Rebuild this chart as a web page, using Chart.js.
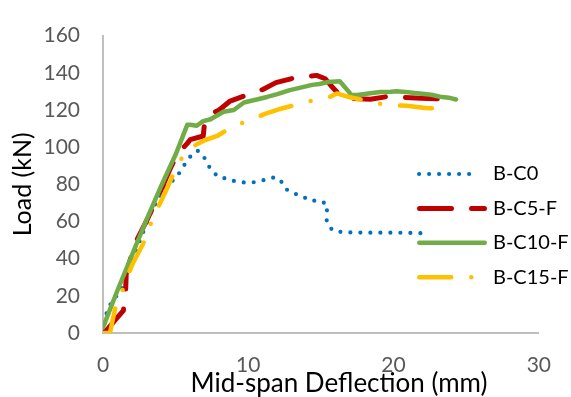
<!DOCTYPE html>
<html>
<head>
<meta charset="utf-8">
<script src="https://cdn.jsdelivr.net/npm/chart.js@4.4.1/dist/chart.umd.min.js"></script>
<style>
  html, body { margin: 0; padding: 0; background: #fff; }
</style>
</head>
<body>
<canvas id="myChart" width="571" height="397"></canvas>
<script>
// series labels
const seriesLabels = ['B-C0', 'B-C5-F', 'B-C10-F', 'B-C15-F'];

// B-C0 (deflection mm / load kN)
const c0X = [0, 0.3, 1.3, 2.3, 3.3, 4.0, 4.5, 5.0, 5.3, 5.65, 6.2, 6.55, 6.9, 7.2, 7.5, 8.0, 8.6, 9.1, 9.7, 10.3, 11.0, 11.7, 12.2, 12.5, 13.0, 13.7, 14.2, 14.9, 15.45, 15.4, 15.4, 15.8, 16.5, 18.0, 20.0, 21.9];
const c0Y = [0, 13, 24, 45, 65, 75, 80.5, 83, 86.7, 91, 97, 98, 95.5, 90.8, 87.2, 83.6, 83.1, 81.5, 81, 81, 82.1, 83.6, 82.6, 77.9, 75.4, 73.8, 71.2, 71.2, 69.2, 64.5, 59.4, 55.2, 54.2, 54, 54, 53.7];

// B-C5-F
const c5X = [0, 0.3, 0.8, 1.4, 1.55, 1.6, 2.2, 3.1, 4.0, 4.6, 5.1, 5.8, 6.0, 6.9, 7.0, 7.5, 8.0, 8.75, 9.9, 11.0, 11.9, 13.1, 14.0, 14.7, 15.3, 15.7, 16.1, 16.3, 17.0, 18.4, 19.5, 20.5, 21.9, 23.0, 23.8];
const c5Y = [0, 2, 6.7, 12, 21, 32, 48, 62, 77, 88, 96, 102, 104, 106, 114, 118, 120, 124.8, 128, 131, 134.7, 137.1, 138, 138.6, 136.8, 133, 129.7, 126.8, 126.3, 125.8, 127.1, 126.8, 126.3, 126, 125.4];

// B-C10-F
const c10X = [0, 1, 2, 3, 4, 5, 5.8, 6.0, 6.45, 6.9, 7.4, 8.3, 9.0, 9.7, 10.5, 11.3, 12.0, 12.8, 13.6, 14.4, 14.9, 15.5, 16.3, 16.55, 16.9, 17.1, 17.5, 18.4, 19.1, 19.8, 20.2, 21.0, 21.8, 22.6, 23.2, 23.8, 24.3];
const c10Y = [3, 23, 42, 61, 79, 96, 112, 112, 111.5, 114, 115, 119, 120, 124, 125.5, 127, 128.5, 130.5, 132, 133.5, 134, 135, 135.4, 133.2, 130, 128, 128, 129, 129.7, 129.8, 130, 129.5, 128.9, 128.2, 127.1, 126.6, 125.6];

// B-C15-F
const c15X = [0, 0.48, 0.83, 1.3, 1.7, 2.07, 2.76, 3.0, 3.45, 4.3, 4.76, 5.1, 5.65, 6.0, 7.0, 7.86, 8.9, 10.1, 11.2, 12.3, 13.5, 14.8, 15.6, 16.1, 17.0, 18.4, 19.5, 20.9, 22.2, 22.8];
const c15Y = [0, 0, 13, 22, 31, 37.7, 48, 53, 62, 76, 84, 90, 97, 99.6, 103.7, 106, 111, 114.6, 118, 120.8, 123.2, 125.8, 127, 128.9, 126.8, 124.6, 122.5, 122.3, 121.1, 120.8];

// axis ticks
const xTicks = [0, 10, 20, 30];
const yTicks = [0, 20, 40, 60, 80, 100, 120, 140, 160];

const FONT = 'Lato, "Open Sans", sans-serif';

function toPoints(xs, ys) {
    return xs.map((x, i) => ({ x: x, y: ys[i] }));
}

const styles = [
    { color: '#0070C0', width: 4.2, dash: [0, 10], cap: 'round', legendEnd: 480 },
    { color: '#C00000', width: 5, dash: [32, 20], cap: 'round', legendEnd: 487 },
    { color: '#70AD47', width: 4.5, dash: [], cap: 'round', legendEnd: 487 },
    { color: '#FFC000', width: 4.5, dash: [32, 20, 0, 20], cap: 'round', legendEnd: 487 },
];

const seriesData = [toPoints(c0X, c0Y), toPoints(c5X, c5Y), toPoints(c10X, c10Y), toPoints(c15X, c15Y)];

const datasets = seriesLabels.map((label, i) => ({
    label: label,
    data: seriesData[i],
    borderColor: styles[i].color,
    backgroundColor: styles[i].color,
    borderWidth: styles[i].width,
    borderDash: styles[i].dash,
    borderCapStyle: styles[i].cap,
    borderJoinStyle: 'round',
    pointRadius: 0,
    tension: 0,
    fill: false,
    order: seriesLabels.length - i,
}));

// legend drawn inside the plot, right side
const insideLegend = {
    id: 'insideLegend',
    afterDraw(chart) {
        const ctx = chart.ctx;
        chart.data.datasets.forEach((ds, i) => {
            const st = styles[i];
            const y = 174 + i * 34.4;
            ctx.save();
            ctx.strokeStyle = st.color;
            ctx.lineWidth = st.width;
            ctx.lineCap = st.cap;
            ctx.setLineDash(st.dash);
            ctx.beginPath();
            ctx.moveTo(417 + st.width / 2, y);
            ctx.lineTo(st.legendEnd - st.width / 2, y);
            ctx.stroke();
            ctx.restore();

            ctx.save();
            ctx.fillStyle = '#000';
            ctx.font = '20px ' + FONT;
            ctx.textBaseline = 'middle';
            ctx.textAlign = 'left';
            ctx.fillText(ds.label, 493, y);
            ctx.restore();
        });
    }
};

// x axis title, a bit right of centre as in the original
const xTitle = {
    id: 'xTitle',
    afterDraw(chart) {
        const ctx = chart.ctx;
        ctx.save();
        ctx.fillStyle = '#000';
        ctx.font = '26px ' + FONT;
        ctx.textAlign = 'center';
        ctx.textBaseline = 'alphabetic';
        ctx.fillText('Mid-span Deflection (mm)', 339, 392);
        ctx.restore();
    }
};

const config = {
    type: 'line',
    data: { datasets: datasets },
    options: {
        responsive: false,
        animation: false,
        layout: { padding: { top: 23, right: 32, left: 0, bottom: 0 } },
        plugins: {
            legend: { display: false },
            tooltip: { enabled: false },
        },
        scales: {
            x: {
                type: 'linear',
                min: 0,
                max: 30,
                afterBuildTicks: (s) => { s.ticks = xTicks.map(v => ({ value: v })); },
                afterFit: (s) => { s.height = 64; },
                ticks: { color: '#595959', font: { family: FONT, size: 21 }, padding: 20, maxRotation: 0 },
                grid: { display: false, drawTicks: false },
                border: { display: true, color: '#BFBFBF', width: 2 },
            },
            y: {
                type: 'linear',
                min: 0,
                max: 160,
                afterBuildTicks: (s) => { s.ticks = yTicks.map(v => ({ value: v })); },
                afterFit: (s) => { s.width = 103; },
                ticks: { color: '#595959', font: { family: FONT, size: 21 }, padding: 23 },
                grid: { display: false, drawTicks: false },
                border: { display: true, color: '#BFBFBF', width: 2 },
                title: {
                    display: true,
                    text: 'Load (kN)',
                    color: '#000',
                    font: { family: FONT, size: 25 },
                    padding: { top: 8, bottom: 0 },
                },
            },
        },
    },
    plugins: [insideLegend, xTitle],
};

new Chart(document.getElementById('myChart'), config);
</script>
</body>
</html>
